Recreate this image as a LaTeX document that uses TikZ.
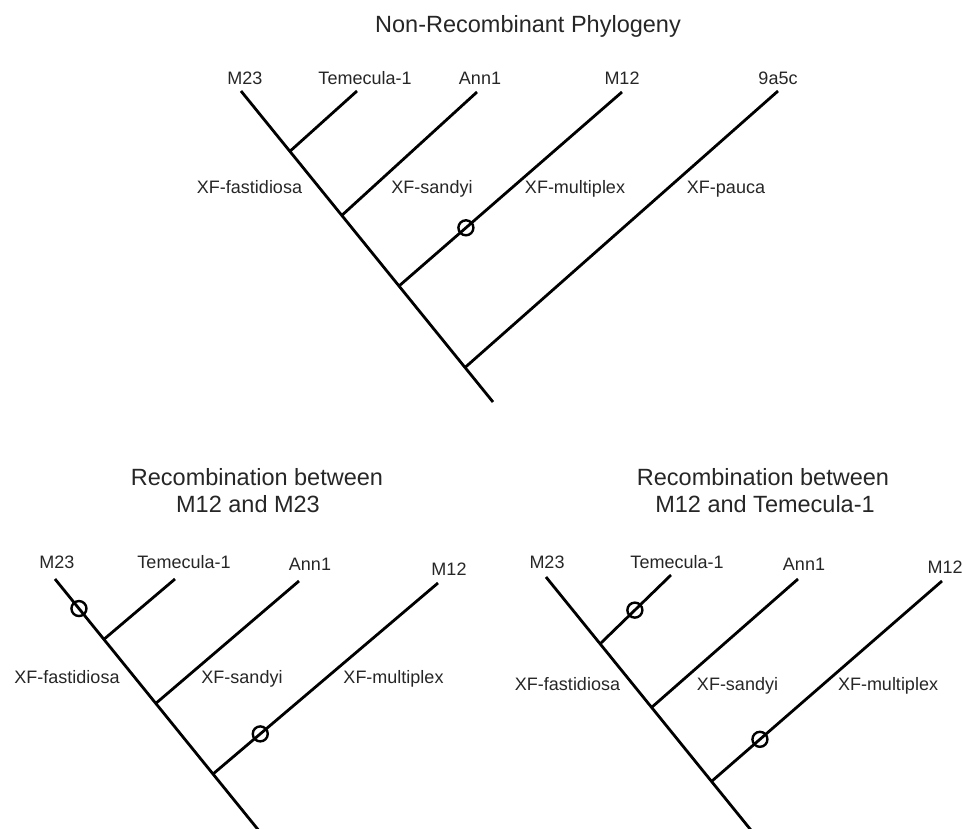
\documentclass[tikz,border=0pt]{standalone}
\usepackage{fontspec}
\setmainfont{Liberation Sans}
\usetikzlibrary{calc}
\tikzset{
  br/.style={line width=2.8pt, line cap=butt},
  lab/.style={anchor=base, inner sep=0pt, font=\fontsize{18}{21}\selectfont, text=black!85},
  ttl/.style={anchor=base, inner sep=0pt, font=\fontsize{23.5}{28}\selectfont, text=black!85},
  rec/.style={circle, draw, line width=2.4pt, minimum size=15pt, inner sep=0pt}
}
\begin{document}
\begin{tikzpicture}[x=1pt,y=-1pt]
\useasboundingbox (0,0) rectangle (963,828);
\clip (0,0) rectangle (963,828);

% ===== Top tree =====
\node[ttl] (t1) at (528,32) {Non-Recombinant Phylogeny};
\coordinate (aM23) at (241,91);
\coordinate (aRoot) at (493,402);
\coordinate (aTem) at (357,91);
\coordinate (aAnn) at (477,92);
\coordinate (aM12) at (622,92);
\coordinate (a9a) at (778,91);
\coordinate (ajT) at ($(aM23)!0.194!(aRoot)$);
\coordinate (ajA) at ($(aM23)!0.40!(aRoot)$);
\coordinate (ajM) at ($(aM23)!0.627!(aRoot)$);
\coordinate (aj9) at ($(aM23)!0.889!(aRoot)$);
\draw[br] (aM23) -- (aRoot);
\draw[br] (ajT) -- (aTem);
\draw[br] (ajA) -- (aAnn);
\draw[br] (ajM) -- (aM12);
\draw[br] (aj9) -- (a9a);
\node[rec] (ac1) at ($(ajM)!0.30!(aM12)$) {};
\node[lab] (alM23) at (245,84) {M23};
\node[lab] (alTem) at (365,84) {Temecula-1};
\node[lab] (alAnn) at (480,84) {Ann1};
\node[lab] (alM12) at (622,84) {M12};
\node[lab] (al9a) at (778,84) {9a5c};
\node[lab] (afas) at (249.5,193) {XF-fastidiosa};
\node[lab] (asan) at (432,193) {XF-sandyi};
\node[lab] (amul) at (575,193) {XF-multiplex};
\node[lab] (apau) at (726,193) {XF-pauca};

% ===== Bottom-left tree =====
\node[ttl] (t2a) at (257,485) {Recombination between};
\node[ttl] (t2b) at (248,512) {M12 and M23};
\coordinate (bM23) at (55,579);
\coordinate (bRoot) at (307,890);
\coordinate (bTem) at (175,579);
\coordinate (bAnn) at (299,581);
\coordinate (bM12) at (438,583);
\coordinate (bjT) at ($(bM23)!0.194!(bRoot)$);
\coordinate (bjA) at ($(bM23)!0.40!(bRoot)$);
\coordinate (bjM) at ($(bM23)!0.627!(bRoot)$);
\draw[br] (bM23) -- (bRoot);
\draw[br] (bjT) -- (bTem);
\draw[br] (bjA) -- (bAnn);
\draw[br] (bjM) -- (bM12);
\node[rec] (bc1) at ($(bM23)!0.095!(bRoot)$) {};
\node[rec] (bc2) at ($(bjM)!0.21!(bM12)$) {};
\node[lab] (blM23) at (57,568) {M23};
\node[lab] (blTem) at (184,568) {Temecula-1};
\node[lab] (blAnn) at (310,570) {Ann1};
\node[lab] (blM12) at (449,575) {M12};
\node[lab] (bfas) at (67,683) {XF-fastidiosa};
\node[lab] (bsan) at (242,683) {XF-sandyi};
\node[lab] (bmul) at (393.5,683) {XF-multiplex};

% ===== Bottom-right tree =====
\node[ttl] (t3a) at (763,485) {Recombination between};
\node[ttl] (t3b) at (765,512) {M12 and Temecula-1};
\coordinate (cM23) at (546,577);
\coordinate (cRoot) at (810,903);
\coordinate (cTem) at (671,575);
\coordinate (cAnn) at (798,579);
\coordinate (cM12) at (942,581);
\coordinate (cjT) at ($(cM23)!0.205!(cRoot)$);
\coordinate (cjA) at ($(cM23)!0.40!(cRoot)$);
\coordinate (cjM) at ($(cM23)!0.627!(cRoot)$);
\draw[br] (cM23) -- (cRoot);
\draw[br] (cjT) -- (cTem);
\draw[br] (cjA) -- (cAnn);
\draw[br] (cjM) -- (cM12);
\node[rec] (cc1) at ($(cjT)!0.49!(cTem)$) {};
\node[rec] (cc2) at ($(cjM)!0.21!(cM12)$) {};
\node[lab] (clM23) at (547,568) {M23};
\node[lab] (clTem) at (677,568) {Temecula-1};
\node[lab] (clAnn) at (804,570) {Ann1};
\node[lab] (clM12) at (945,573) {M12};
\node[lab] (cfas) at (567.5,690) {XF-fastidiosa};
\node[lab] (csan) at (737.5,690) {XF-sandyi};
\node[lab] (cmul) at (888,690) {XF-multiplex};
\end{tikzpicture}
\end{document}
